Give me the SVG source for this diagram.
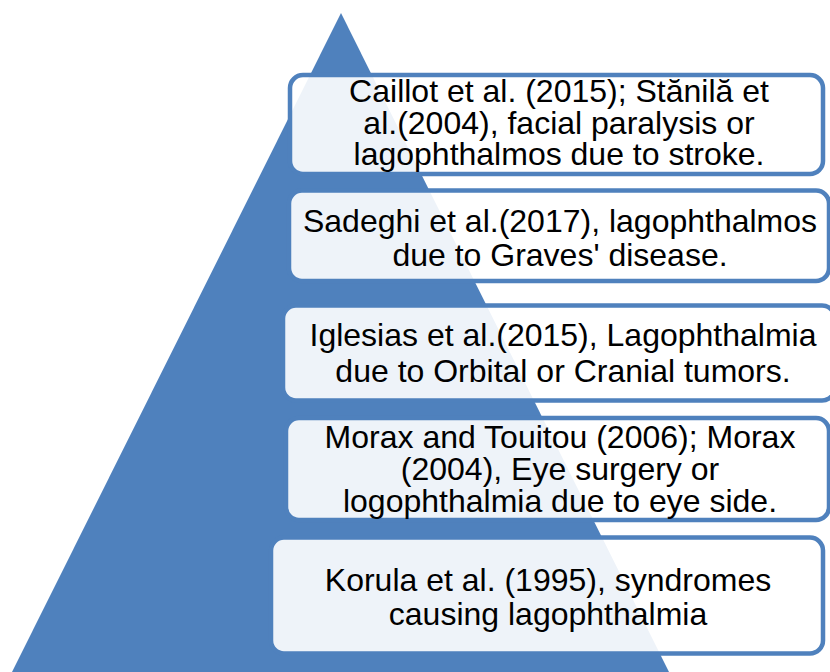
<svg xmlns="http://www.w3.org/2000/svg" width="830" height="672" viewBox="0 0 830 672">
<style>
.box{fill:#ffffff;fill-opacity:0.9;stroke:#4F81BD;stroke-width:4.5}
.t{font-family:"Liberation Sans",Arial,sans-serif;font-size:32px;fill:#000000;text-anchor:middle}
</style>
<rect width="830" height="672" fill="#ffffff"/>
<g id="pyramid">
<polygon points="341,13 669,672 12,672" fill="#4F81BD"/>
</g>
<g id="node1">
<rect class="box" x="290" y="75" width="533" height="99" rx="13"/>
<text class="t" y="102"><tspan x="559">Caillot et al. (2015); Stănilă et</tspan><tspan x="559" dy="31.5">al.(2004), facial paralysis or</tspan><tspan x="559" dy="31.5">lagophthalmos due to stroke.</tspan></text>
</g>
<g id="node2">
<rect class="box" x="289" y="190.5" width="540" height="90.5" rx="13"/>
<text class="t" y="232"><tspan x="560">Sadeghi et al.(2017), lagophthalmos</tspan><tspan x="560" dy="34">due to Graves' disease.</tspan></text>
</g>
<g id="node3">
<rect class="box" x="283" y="305.5" width="552" height="95" rx="13"/>
<text class="t" y="346"><tspan x="563">Iglesias et al.(2015), Lagophthalmia</tspan><tspan x="563" dy="35.5">due to Orbital or Cranial tumors.</tspan></text>
</g>
<g id="node4">
<rect class="box" x="286" y="418" width="543" height="102" rx="13"/>
<text class="t" y="448"><tspan x="560">Morax and Touitou (2006); Morax</tspan><tspan x="560" dy="32">(2004), Eye surgery or</tspan><tspan x="560" dy="32">logophthalmia due to eye side.</tspan></text>
</g>
<g id="node5">
<rect class="box" x="271" y="537.5" width="552" height="116" rx="13"/>
<text class="t" y="591"><tspan x="548">Korula et al. (1995), syndromes</tspan><tspan x="548" dy="34">causing lagophthalmia</tspan></text>
</g>
</svg>
